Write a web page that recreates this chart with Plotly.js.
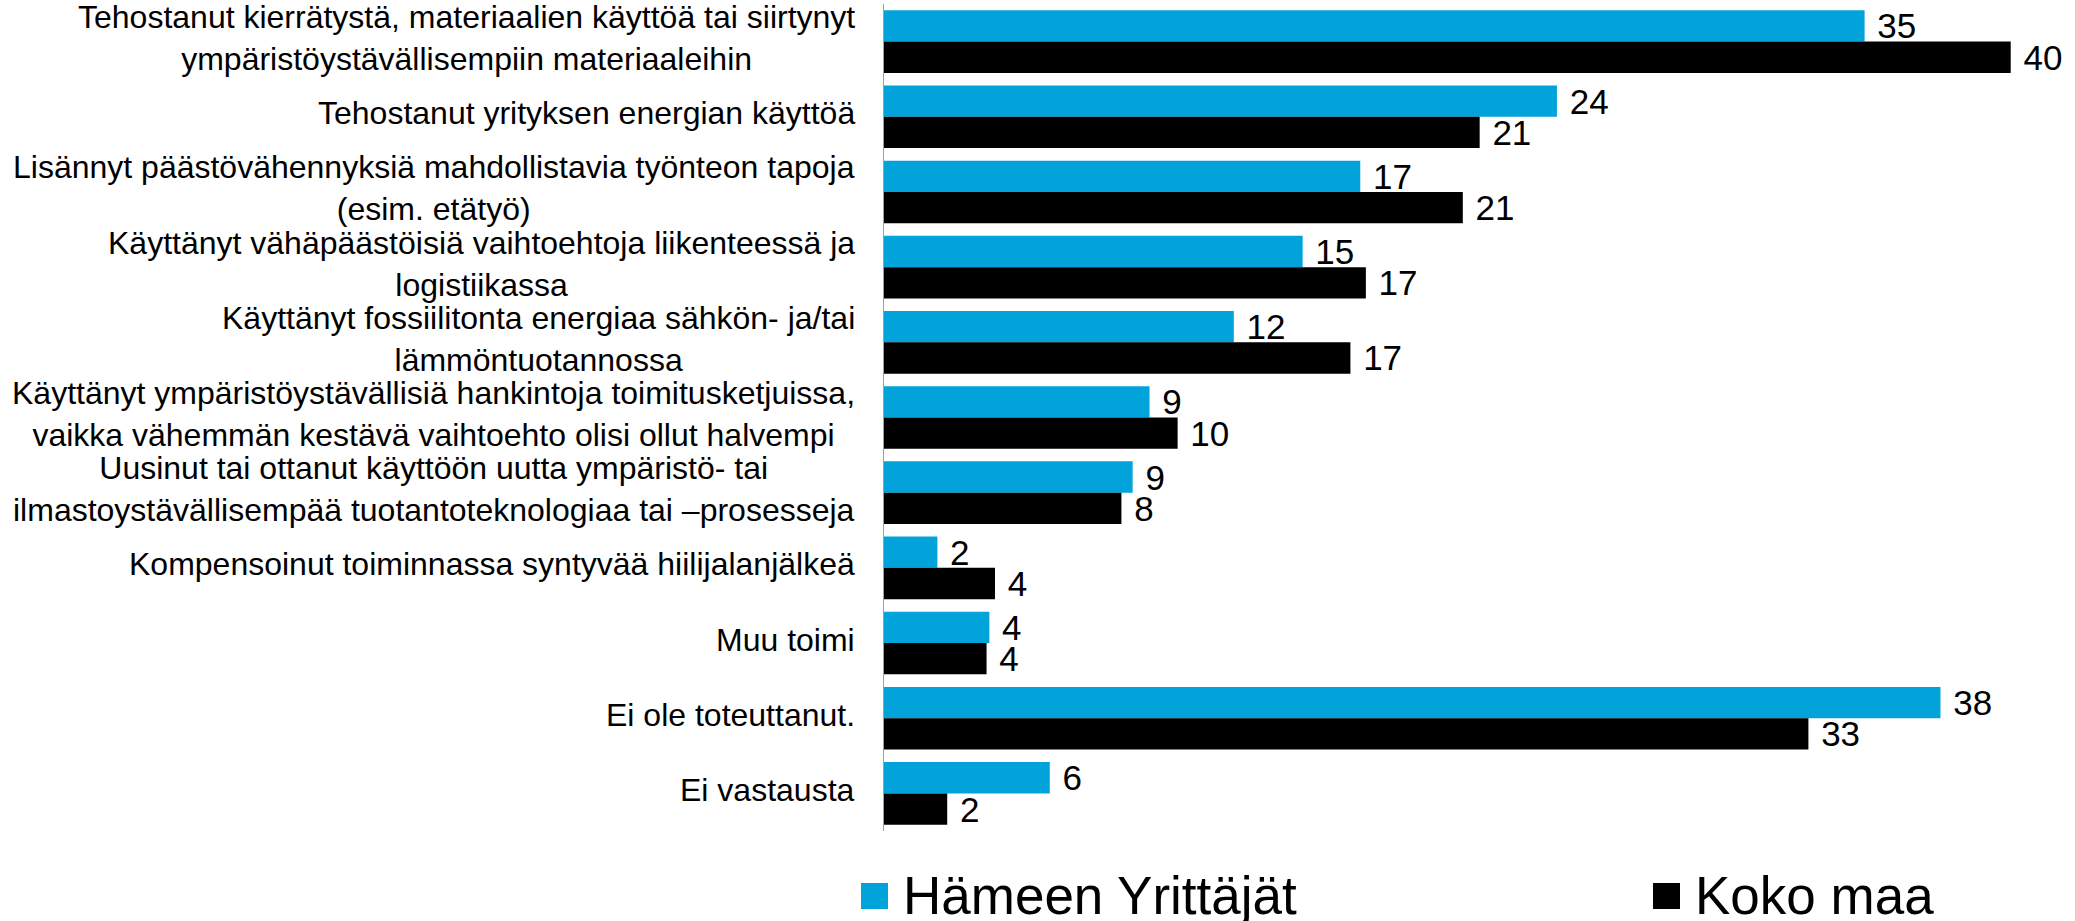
<!DOCTYPE html>
<html>
<head>
<meta charset="utf-8">
<script src="https://cdn.plot.ly/plotly-3.0.1.min.js"></script>
<style>
  html, body { margin: 0; padding: 0; background: #ffffff; }
  #chart { width: 2075px; height: 921px; }
</style>
</head>
<body>
<div id="chart"></div>
<script>
// ---- Data ----
const categories = [
  "Tehostanut kierrätystä, materiaalien käyttöä tai siirtynyt\nympäristöystävällisempiin materiaaleihin",
  "Tehostanut yrityksen energian käyttöä",
  "Lisännyt päästövähennyksiä mahdollistavia työnteon tapoja\n(esim. etätyö)",
  "Käyttänyt vähäpäästöisiä vaihtoehtoja liikenteessä ja\nlogistiikassa",
  "Käyttänyt fossiilitonta energiaa sähkön- ja/tai\nlämmöntuotannossa",
  "Käyttänyt ympäristöystävällisiä hankintoja toimitusketjuissa,\nvaikka vähemmän kestävä vaihtoehto olisi ollut halvempi",
  "Uusinut tai ottanut käyttöön uutta ympäristö- tai\nilmastoystävällisempää tuotantoteknologiaa tai –prosesseja",
  "Kompensoinut toiminnassa syntyvää hiilijalanjälkeä",
  "Muu toimi",
  "Ei ole toteuttanut.",
  "Ei vastausta"
];
const seriesNames = ["Hämeen Yrittäjät", "Koko maa"];
const hameenValues = [34.9, 23.95, 16.95, 14.9, 12.45, 9.45, 8.85, 1.9, 3.75, 37.6, 5.9];
const kokoMaaValues = [40.1, 21.2, 20.6, 17.15, 16.6, 10.45, 8.45, 3.95, 3.65, 32.9, 2.25];

// ---- Styling ----
const FONT = "Liberation Sans, Arial, Helvetica, sans-serif";
const COLORS = ["#02A3DA", "#000000"];
const W = 2075, H = 921;
const M = { l: 884, r: 39, t: 4, b: 90 };
const plotW = W - M.l - M.r, plotH = H - M.t - M.b;
const pxX = p => (p - M.l) / plotW;       // pixel -> paper x
const pxY = p => 1 - (p - M.t) / plotH;   // pixel -> paper y

const yCats = categories.map(c => c.replace(/\n/g, "<br>"));

const traces = [hameenValues, kokoMaaValues].map((vals, i) => ({
  type: "bar",
  orientation: "h",
  name: seriesNames[i],
  y: yCats,
  x: vals,
  marker: { color: COLORS[i], line: { width: 0 } },
  texttemplate: "\u00a0%{x:.0f}",
  textposition: "outside",
  constraintext: "none",
  cliponaxis: false,
  textfont: { family: FONT, size: 35, color: "#000000" },
  hoverinfo: "x+y+name",
  showlegend: false
}));

// category labels: right-aligned block, lines centred like the reference
const labelAnnotations = yCats.map(c => ({
  xref: "paper", yref: "y",
  x: 0, y: c,
  xanchor: "right", yanchor: "middle",
  xshift: -27,
  yshift: 3.5,
  align: "center",
  text: c,
  showarrow: false,
  font: { family: FONT, size: 32, color: "#000000" }
}));

// legend (large squares as in the reference)
const legendX = [861, 1653];
const legendAnnotations = seriesNames.map((n, i) => ({
  xref: "paper", yref: "paper",
  x: pxX(legendX[i] + 40), y: pxY(895),
  xanchor: "left", yanchor: "middle",
  text: n,
  showarrow: false,
  font: { family: FONT, size: 53, color: "#000000" }
}));
const legendShapes = seriesNames.map((n, i) => ({
  type: "rect",
  xref: "paper", yref: "paper",
  x0: pxX(legendX[i]), x1: pxX(legendX[i] + 27),
  y0: pxY(909), y1: pxY(883),
  fillcolor: COLORS[i],
  line: { width: 0 }
}));

const layout = {
  width: W, height: H,
  margin: M,
  paper_bgcolor: "#ffffff",
  plot_bgcolor: "#ffffff",
  barmode: "group",
  bargap: 0.167,
  bargroupgap: 0,
  showlegend: false,
  font: { family: FONT, color: "#000000" },
  xaxis: {
    range: [0, 41],
    visible: false,
    showgrid: false,
    zeroline: false,
    fixedrange: true
  },
  yaxis: {
    type: "category",
    autorange: "reversed",
    showticklabels: false,
    ticks: "",
    showgrid: false,
    zeroline: false,
    showline: true,
    linecolor: "#a0a0a0",
    linewidth: 1.5,
    fixedrange: true
  },
  annotations: labelAnnotations.concat(legendAnnotations),
  shapes: legendShapes
};

Plotly.newPlot("chart", traces, layout, { staticPlot: true, displayModeBar: false });
</script>
</body>
</html>
